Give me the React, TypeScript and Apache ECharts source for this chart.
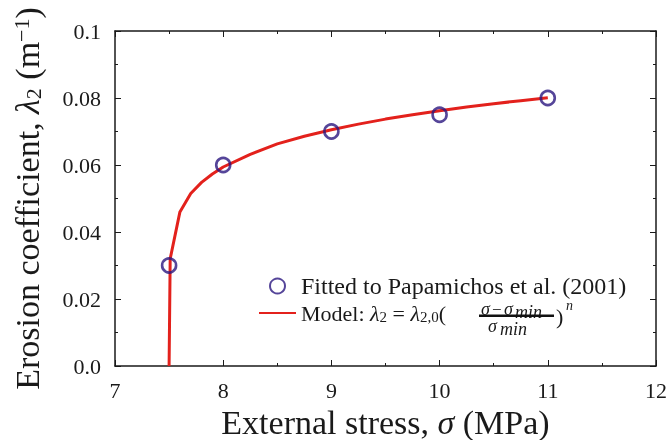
import React, { useEffect, useRef } from "react";
import * as echarts from "echarts";

const xTickLabels = ["7", "8", "9", "10", "11", "12"];
const yTickLabels = ["0.0", "0.02", "0.04", "0.06", "0.08", "0.1"];

const fittedX = [7.5, 8, 9, 10, 11];
const fittedY = [0.03, 0.06, 0.07, 0.075, 0.08];

const modelX = [7.5, 7.51, 7.6, 7.7, 7.8, 7.9, 8.0, 8.25, 8.5, 8.75, 9.0, 9.25, 9.5, 9.75, 10.0, 10.25, 10.5, 10.75, 11.0];
const modelY = [0, 0.032, 0.046, 0.0515, 0.0548, 0.0573, 0.0594, 0.0632, 0.0663, 0.0686, 0.0705, 0.0722, 0.0737, 0.075, 0.0762, 0.0773, 0.0783, 0.0792, 0.0801];

const FONT = "'Liberation Serif', 'DejaVu Serif', serif";
const INK = "#1a1a1a";
const BLUE = "#2a1780";
const RED = "#e3211c";

export default function App() {
  const ref = useRef<HTMLDivElement>(null);
  useEffect(() => {
    if (!ref.current) return;
    const chart = echarts.init(ref.current, null, { renderer: "svg" });
    const axisLine = { show: true, onZero: false, lineStyle: { color: INK, width: 1.5 } };
    const axisTick = { show: true, inside: true, length: 6, lineStyle: { color: INK, width: 1 } };
    const minorTick = { show: true, splitNumber: 2, length: 3, lineStyle: { color: INK, width: 1 } };
    const richName = {
      i: { fontStyle: "italic", fontFamily: FONT, fontSize: 34, color: INK },
      sub: { fontFamily: FONT, fontSize: 22, color: INK, verticalAlign: "bottom", lineHeight: 24 },
      sup: { fontFamily: FONT, fontSize: 22, color: INK, verticalAlign: "top", lineHeight: 24 },
    };
    const tight = (text: string, x: number, y: number, size: number, italic: boolean) => ({
      type: "text", x, y,
      style: {
        text, fontFamily: FONT, fontSize: size, fontStyle: italic ? "italic" : "normal", fill: INK,
        align: "left", verticalAlign: "middle", lineHeight: Math.round(size * 0.7),
      },
    });
    chart.setOption({
      animation: false,
      grid: { left: 115, right: 14, top: 31, bottom: 74, show: false, containLabel: false, outerBoundsMode: "none" },
      xAxis: [
        {
          type: "value", min: 7, max: 12, interval: 1, position: "bottom",
          axisLine, axisTick, minorTick, splitLine: { show: false },
          axisLabel: { fontFamily: FONT, fontSize: 22, color: INK, margin: 13, formatter: (v: number) => xTickLabels[Math.round(v - 7)] },
          name: "External stress, {i|σ} (MPa)", nameLocation: "middle", nameGap: 38,
          nameTextStyle: { fontFamily: FONT, fontSize: 34, color: INK, rich: richName },
        },
        {
          type: "value", min: 7, max: 12, interval: 1, position: "top",
          axisLine, axisTick, minorTick, splitLine: { show: false }, axisLabel: { show: false },
        },
      ],
      yAxis: [
        {
          type: "value", min: 0, max: 0.1, interval: 0.02, position: "left",
          axisLine, axisTick, minorTick, splitLine: { show: false },
          axisLabel: { fontFamily: FONT, fontSize: 22, color: INK, margin: 14, formatter: (v: number) => yTickLabels[Math.round(v / 0.02)] },
          name: "Erosion coefficient, {i|λ}{sub|2} (m{sup|−1})", nameLocation: "middle", nameGap: 71,
          nameTextStyle: { fontFamily: FONT, fontSize: 34, color: INK, rich: richName },
        },
        {
          type: "value", min: 0, max: 0.1, interval: 0.02, position: "right",
          axisLine, axisTick, minorTick, splitLine: { show: false }, axisLabel: { show: false },
        },
      ],
      legend: {
        data: [{ name: "Fitted" }, { name: "Model", itemStyle: { opacity: 0 } }],
        orient: "vertical", left: 253, top: 269,
        itemWidth: 37, itemHeight: 15, itemGap: 4,
        textStyle: {
          fontFamily: FONT, fontSize: 22, color: INK,
          rich: {
            f: { fontFamily: FONT, fontSize: 24, color: INK },
            t: { fontFamily: FONT, fontSize: 22, color: INK },
            i: { fontFamily: FONT, fontSize: 22, color: INK, fontStyle: "italic" },
            s: { fontFamily: FONT, fontSize: 15, color: INK, verticalAlign: "bottom", lineHeight: 15 },
          },
        },
        formatter: (name: string) =>
          name === "Fitted"
            ? "{f|Fitted to Papamichos et al. (2001)}"
            : "{t|Model: }{i|λ}{s|2}{t| = }{i|λ}{s|2,0}{t|(}",
      },
      graphic: [
        tight("σ", 481, 309, 18, true),
        tight("−", 492, 309, 17, false),
        tight("σ", 504, 309, 18, true),
        tight("min", 515, 312, 18, true),
        { type: "rect", shape: { x: 479, y: 314.5, width: 75, height: 2.4 }, style: { fill: "#111" } },
        tight("σ", 488, 326, 18, true),
        tight("min", 500, 329, 18, true),
        { type: "text", x: 556, y: 316, style: { text: ")", fontFamily: FONT, fontSize: 22, fill: INK, align: "left", verticalAlign: "middle", lineHeight: 20 } },
        tight("n", 566, 305, 14, true),
      ],
      series: [
        {
          name: "Model", type: "line", data: modelX.map((x, k) => [x, modelY[k]]),
          symbol: "none", lineStyle: { color: RED, width: 3 }, itemStyle: { color: RED }, z: 2,
        },
        {
          name: "Fitted", type: "scatter", data: fittedX.map((x, k) => [x, fittedY[k]]),
          symbol: "circle", symbolSize: 14,
          itemStyle: { color: "rgba(255,255,255,0)", borderColor: BLUE, borderWidth: 2.6 }, z: 3,
        },
      ],
    });
    return () => chart.dispose();
  }, []);
  return <div ref={ref} style={{ position: "fixed", left: 0, top: 0, width: 670, height: 440 }} />;
}
